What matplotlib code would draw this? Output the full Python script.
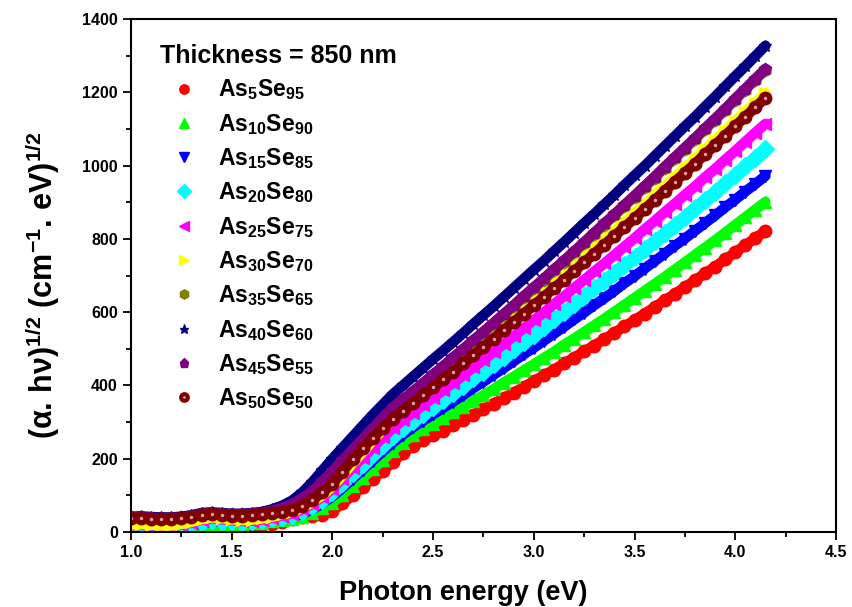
import matplotlib
matplotlib.use("Agg")
import matplotlib.pyplot as plt
from matplotlib.ticker import MultipleLocator
from matplotlib.legend_handler import HandlerTuple
import numpy as np

plt.rcParams['font.family'] = ['Liberation Sans', 'DejaVu Sans']
plt.rcParams['mathtext.fontset'] = 'custom'
plt.rcParams['mathtext.rm'] = 'Liberation Sans'
plt.rcParams['mathtext.bf'] = 'Liberation Sans:bold'
plt.rcParams['mathtext.it'] = 'Liberation Sans:italic'

# photon energy grid (eV), 1.00 ... 4.15 in 0.05 steps
energy = np.arange(100, 416, 5) / 100

as5se95 = [0, 3, 4, 0, -2, 0, 4, 10, 14, 13, 12, 13, 15, 18, 22, 28,
           36, 42, 43, 47, 58, 78, 100, 124, 146, 166, 192, 215,
           236, 250, 264, 277, 292, 306, 320, 335, 350, 366, 380, 396, 412, 428, 443, 460, 476, 493,
           509, 526, 544, 561, 578, 596, 614, 632, 650, 668, 687, 706, 724, 744, 763, 783, 802, 822]
as10se90 = [5, 7, 6, 4, 4, 7, 12, 18, 22, 23, 23, 23, 24, 26, 29, 32,
            35, 42, 52, 65, 80, 102, 125, 148, 172, 196, 222, 244,
            265, 280, 295, 311, 327, 342, 358, 374, 390, 408, 424, 441, 458, 475, 492, 511, 528, 546,
            564, 582, 601, 620, 639, 658, 677, 696, 716, 736, 756, 776, 796, 817, 838, 859, 880, 901]
as15se85 = [10, 12, 10, 8, 8, 11, 17, 24, 28, 28, 27, 27, 28, 30, 34, 38,
            40, 50, 62, 78, 97, 120, 145, 170, 195, 220, 244, 266,
            286, 304, 321, 339, 356, 374, 393, 410, 429, 447, 466, 485, 503, 522, 541, 560, 580, 599,
            619, 638, 658, 679, 698, 719, 739, 760, 781, 801, 822, 843, 864, 886, 907, 929, 950, 972]
as20se80 = [14, 16, 14, 12, 12, 15, 21, 28, 32, 31, 29, 28, 29, 32, 37, 42,
            46, 57, 71, 88, 108, 133, 160, 186, 212, 238, 262, 283,
            303, 322, 341, 361, 380, 399, 419, 438, 459, 479, 499, 519, 539, 560, 581, 601, 622, 643,
            665, 686, 707, 729, 750, 773, 795, 817, 839, 861, 884, 907, 929, 952, 975, 999, 1022, 1045]
as25se75 = [18, 20, 18, 16, 16, 20, 26, 33, 37, 35, 32, 30, 31, 34, 39, 45,
            50, 62, 77, 96, 118, 146, 176, 203, 230, 258, 283, 305,
            325, 346, 366, 387, 407, 428, 449, 470, 491, 513, 534, 556, 578, 599, 622, 643, 666, 688,
            711, 733, 756, 779, 802, 826, 849, 873, 896, 920, 943, 968, 991, 1016, 1040, 1065, 1090, 1114]
as30se70 = [20, 22, 20, 18, 18, 22, 28, 35, 40, 38, 35, 33, 34, 37, 42, 48,
            55, 66, 81, 101, 124, 155, 188, 218, 250, 281, 313, 342,
            367, 389, 411, 432, 454, 476, 499, 520, 543, 566, 588, 611, 634, 657, 680, 703, 727, 751,
            774, 798, 822, 847, 870, 895, 920, 945, 969, 994, 1019, 1045, 1069, 1095, 1121, 1147, 1172, 1198]
as35se65 = [40, 41, 39, 38, 38, 40, 44, 50, 52, 50, 48, 48, 50, 53, 58, 66,
            74, 90, 110, 136, 164, 194, 222, 251, 280, 309, 337, 359,
            381, 404, 427, 450, 474, 497, 521, 544, 568, 592, 616, 641, 665, 689, 714, 738, 763, 788,
            814, 839, 864, 890, 915, 941, 967, 994, 1020, 1046, 1072, 1099, 1125, 1152, 1180, 1207, 1234, 1261]
as40se60 = [42, 43, 41, 40, 40, 42, 46, 52, 54, 52, 50, 50, 52, 55, 62, 72,
            86, 108, 136, 168, 200, 230, 260, 290, 320, 348, 376, 400,
            424, 448, 472, 495, 519, 543, 568, 592, 616, 641, 666, 691, 716, 740, 766, 791, 817, 843,
            868, 894, 920, 947, 973, 999, 1026, 1053, 1080, 1107, 1133, 1161, 1188, 1216, 1244, 1271, 1299, 1327]
as45se55 = [40, 41, 39, 38, 38, 40, 44, 50, 52, 50, 48, 48, 50, 53, 58, 66,
            76, 92, 112, 138, 166, 196, 225, 254, 283, 312, 340, 362,
            384, 407, 430, 453, 477, 500, 524, 547, 571, 595, 619, 644, 668, 692, 717, 741, 766, 791,
            817, 842, 867, 893, 918, 944, 970, 997, 1023, 1049, 1075, 1102, 1128, 1155, 1183, 1210, 1237, 1264]
as50se50 = [38, 38, 36, 35, 35, 37, 41, 47, 50, 47, 45, 45, 46, 48, 52, 56,
            60, 72, 88, 108, 132, 165, 198, 228, 257, 284, 309, 331,
            351, 373, 395, 417, 438, 460, 483, 505, 528, 551, 573, 596, 619, 642, 666, 688, 712, 736,
            760, 784, 808, 832, 856, 881, 906, 931, 956, 980, 1005, 1031, 1056, 1082, 1108, 1133, 1159, 1185]

series = [as5se95, as10se90, as15se85, as20se80, as25se75,
          as30se70, as35se65, as40se60, as45se55, as50se50]
labels = [r'$\mathbf{As_{5}Se_{95}}$', r'$\mathbf{As_{10}Se_{90}}$', r'$\mathbf{As_{15}Se_{85}}$',
          r'$\mathbf{As_{20}Se_{80}}$', r'$\mathbf{As_{25}Se_{75}}$', r'$\mathbf{As_{30}Se_{70}}$',
          r'$\mathbf{As_{35}Se_{65}}$', r'$\mathbf{As_{40}Se_{60}}$', r'$\mathbf{As_{45}Se_{55}}$',
          r'$\mathbf{As_{50}Se_{50}}$']
colours = ['#ff0000', '#00ff00', '#0000ff', '#00ffff', '#ff00ff',
           '#ffff00', '#808000', '#000080', '#800080', '#800000']
markers = ['o', '^', 'v', 'D', '<', '>', 'h', '*', 'p', 'o']

fig = plt.figure(figsize=(8.53, 6.07), dpi=100)
ax = fig.add_axes([0.1536, 0.1235, 0.8264, 0.8452])

handles = []
for y, c, m in zip(series, colours, markers):
    ax.plot(energy, y, '-', color=c, lw=7.5, solid_capstyle='round')
    h, = ax.plot(energy, y, ls='none', marker=m, color=c, ms=9, mec=c)
    handles.append(h)
# shiny highlight on the As50Se50 balls
shine, = ax.plot(energy, as50se50, ls='none', marker='o', ms=2.5, color='#d8a4a4', mec='none')
handles[-1] = (handles[-1], shine)

ax.set_xlim(1.0, 4.5)
ax.set_ylim(0, 1400)
ax.xaxis.set_major_locator(MultipleLocator(0.5))
ax.xaxis.set_minor_locator(MultipleLocator(0.25))
ax.yaxis.set_major_locator(MultipleLocator(200))
ax.yaxis.set_minor_locator(MultipleLocator(100))
ax.tick_params(which='both', direction='out', top=False, right=False, width=1.3)
ax.tick_params(which='major', length=6, labelsize=11.5)
ax.tick_params(which='minor', length=3.5)
ax.xaxis.set_major_formatter(plt.FormatStrFormatter('%.1f'))
for lbl in ax.get_xticklabels() + ax.get_yticklabels():
    lbl.set_fontweight('bold')
for s in ax.spines.values():
    s.set_linewidth(1.5)

ax.set_xlabel('Photon energy (eV)', fontsize=19.5, fontweight='bold')
ax.xaxis.set_label_coords(0.472, -0.093)
ax.set_ylabel(r'$\mathbf{(\alpha.\,h\nu)^{1/2}\ (cm^{-1}.\,eV)^{1/2}}$', fontsize=22)
ax.yaxis.set_label_coords(-0.098, 0.481)

leg = ax.legend(handles, labels, loc='upper left', bbox_to_anchor=(0.041, 0.951),
                frameon=False, numpoints=1, markerscale=0.75, borderpad=0, borderaxespad=0,
                fontsize=16.5, labelspacing=0.41, handlelength=2.1, handletextpad=0.45,
                title='Thickness = 850 nm', alignment='left',
                title_fontproperties={'weight': 'bold', 'size': 18},
                handler_map={tuple: HandlerTuple(ndivide=1, pad=0)})

fig.savefig('out.png', dpi=100)
